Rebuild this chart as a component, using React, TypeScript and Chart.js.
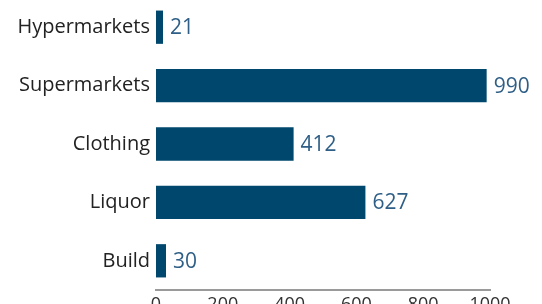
import React, { useEffect, useRef } from "react";
import { Chart, registerables } from "chart.js";

Chart.register(...registerables);

const categories = ["Hypermarkets", "Supermarkets", "Clothing", "Liquor", "Build"];
const values = [21, 990, 412, 627, 30];
const xTicks = [0, 200, 400, 600, 800, 1000];

const FONT = "'Open Sans', sans-serif";

const valueLabels = {
  id: "valueLabels",
  afterDatasetsDraw(chart: any) {
    const ctx = chart.ctx;
    const meta = chart.getDatasetMeta(0);
    ctx.save();
    ctx.font = `21px ${FONT}`;
    ctx.fillStyle = "#2f5f86";
    ctx.textAlign = "left";
    ctx.textBaseline = "middle";
    meta.data.forEach((bar: any, i: number) => {
      ctx.fillText(String(values[i]), bar.x + 7, bar.y + 1);
    });
    ctx.restore();
  },
};

export default function App() {
  const ref = useRef<HTMLCanvasElement>(null);
  useEffect(() => {
    if (!ref.current) return;
    const chart = new Chart(ref.current, {
      type: "bar",
      data: {
        labels: categories,
        datasets: [
          {
            data: values,
            backgroundColor: "#00476d",
            barPercentage: 0.57,
            categoryPercentage: 1,
          },
        ],
      },
      options: {
        indexAxis: "y",
        animation: false,
        responsive: false,
        maintainAspectRatio: false,
        layout: { padding: { top: 0, right: 52, left: 0, bottom: 0 } },
        plugins: { legend: { display: false }, tooltip: { enabled: false } },
        scales: {
          x: {
            min: 0,
            max: 1000,
            afterBuildTicks: (s: any) => {
              s.ticks = xTicks.map((v) => ({ value: v }));
            },
            afterFit: (s: any) => {
              s.height = 40;
            },
            grid: { display: false, drawTicks: false },
            border: { display: true, color: "#9a9a9a", width: 2 },
            ticks: {
              color: "#333",
              font: { family: FONT, size: 18 },
              padding: 4,
              maxRotation: 0,
              callback: (v: any) => String(v),
            },
          },
          y: {
            afterFit: (s: any) => {
              s.width = 156;
            },
            grid: { display: false, drawTicks: false },
            border: { display: false },
            ticks: {
              color: "#222",
              font: { family: FONT, size: 20 },
              padding: 6,
            },
          },
        },
      },
      plugins: [valueLabels],
    });
    return () => chart.destroy();
  }, []);
  return (
    <div style={{ position: "absolute", left: 0, top: -20.5, width: 542, height: 350 }}>
      <canvas ref={ref} width={542} height={350} style={{ width: 542, height: 350 }} />
    </div>
  );
}
